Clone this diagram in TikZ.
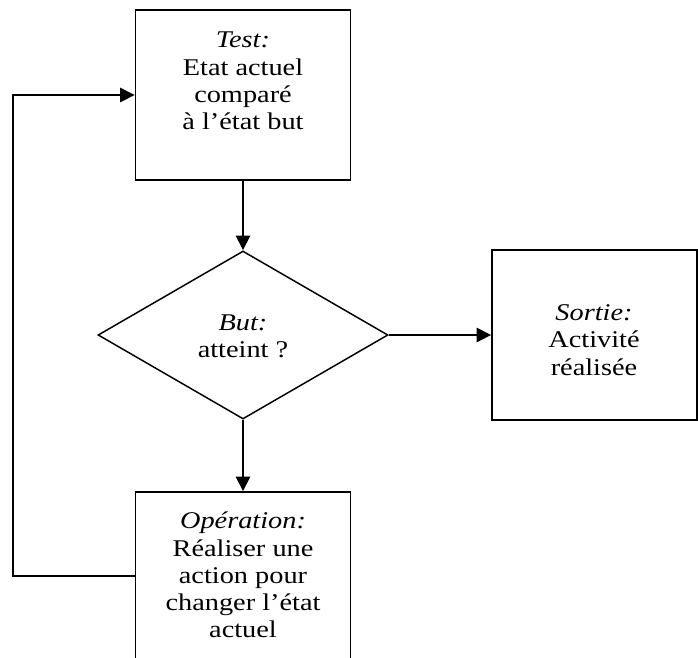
\documentclass[tikz,border=0pt]{standalone}
\usepackage{fontspec}
\setmainfont[FakeStretch=1.18]{Liberation Serif}
\usetikzlibrary{arrows.meta,shapes.geometric}

\tikzset{%
	boite/.style={draw,line width=1.1pt,minimum width=161.25pt,minimum height=127.5pt,inner sep=0pt},%
	losange/.style={draw,diamond,line width=1.1pt,minimum width=217.5pt,minimum height=126pt,inner sep=0pt},%
	texte/.style={align=center,inner sep=0pt,font=\fontsize{18}{20.4}\selectfont},%
	fleche/.style={line width=2pt,-{Triangle[length=11pt,width=10.5pt]}}%
}

\begin{document}
\begin{tikzpicture}[x=0.75pt,y=-0.75pt] % tikzpicture環境開始
\clip (0,0) rectangle (698,657);
% boites
\node[boite] (test) at (243,95) {};
\node[losange] (but) at (243,335) {};
\node[boite,minimum width=153.75pt] (sortie) at (594.5,335) {};
\node[boite,minimum height=126pt] (operation) at (243,576) {};
% textes
\node[texte] (testtxt) at (243,81) {\textit{Test:}\\Etat actuel\\comparé\\à l’état but};
\node[texte] (buttxt) at (243,336) {\textit{But:}\\atteint ?};
\node[texte] (sortietxt) at (594,340) {\textit{Sortie:}\\Activité\\réalisée};
\node[texte] (operationtxt) at (243,575) {\textit{Opération:}\\Réaliser une\\action pour\\changer l’état\\actuel};
% fleches
\foreach \a/\b in%
{%
	test/but,but/sortie,but/operation%
}{%
	\draw[fleche] (\a) -- (\b);
}%
\coordinate (coin) at (13,576);
\draw[fleche] (operation.west) -- (coin) |- (test.west);
\end{tikzpicture}
\end{document}
